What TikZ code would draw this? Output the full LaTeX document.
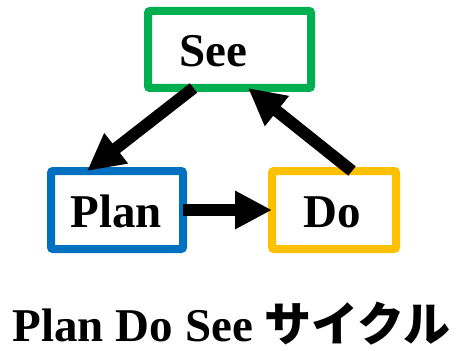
\documentclass[tikz,border=0pt]{standalone}
\usepackage{fontspec}
\setmainfont{Liberation Serif}
\newfontfamily\jpfont{Noto Sans CJK JP}
\usetikzlibrary{arrows.meta}
\definecolor{seegreen}{HTML}{00B050}
\definecolor{planblue}{HTML}{0070C0}
\definecolor{doorange}{HTML}{FFC000}
\tikzset{
  box/.style={draw, line width=8pt, fill=white, rounded corners=2pt, inner sep=0pt, outer sep=0pt},
  lbl/.style={font=\fontsize{47}{50}\selectfont\bfseries, inner sep=0pt, anchor=base},
  arr/.style={line width=12pt, -{Triangle[length=37pt,width=36pt]}},
}
\begin{document}
\begin{tikzpicture}[x=1pt,y=-1pt]
\useasboundingbox (0,0) rectangle (462,350);
\node[box, draw=seegreen, minimum width=163pt, minimum height=77pt] (see) at (229.5,49.5) {};
\node[box, draw=planblue, minimum width=132pt, minimum height=78pt] (plan) at (117,210) {};
\node[box, draw=doorange, minimum width=124pt, minimum height=78pt] (do) at (334,210) {};
\node[lbl] (seet) at (213,67) {See};
\node[lbl] (plant) at (116,227) {Plan};
\node[lbl] (dot) at (332,227) {Do};
\draw[arr] ([xshift=-36pt]see.south) -- ([xshift=-30pt]plan.north);
\draw[arr] ([xshift=18pt]do.north) -- ([xshift=18.5pt]see.south);
\draw[arr] (plan.east) -- (do.west);
\node[inner sep=0pt, anchor=base, font=\fontsize{47}{50}\selectfont\bfseries] (title) at (231.5,341) {Plan Do See {\jpfont\bfseries サイクル}};
\end{tikzpicture}
\end{document}
